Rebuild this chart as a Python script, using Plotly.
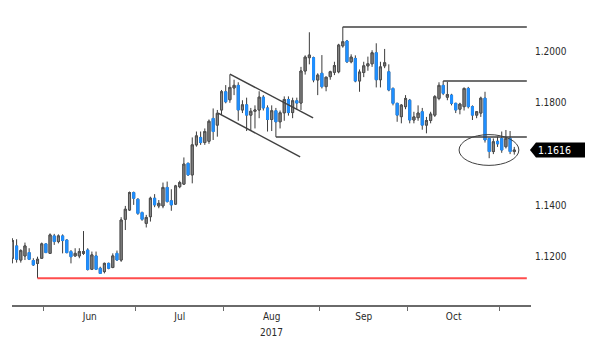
import pandas as pd
import plotly.graph_objects as go

# EUR/USD daily bars, 22 May 2017 - 6 Nov 2017
dates = pd.bdate_range("2017-05-22", periods=121)

opens = [
    1.1194, 1.1242, 1.1187, 1.1203, 1.1216, 1.1185, 1.1174, 1.1194, 1.1250, 1.1213,
    1.1281, 1.1259, 1.1281, 1.1265, 1.1220, 1.1203, 1.1203, 1.1213, 1.1226, 1.1151,
    1.1203, 1.1155, 1.1142, 1.1174, 1.1158, 1.1213, 1.1187, 1.1346, 1.1382, 1.1450,
    1.1424, 1.1372, 1.1330, 1.1356, 1.1428, 1.1398, 1.1398, 1.1470, 1.1418, 1.1405,
    1.1473, 1.1483, 1.1564, 1.1519, 1.1636, 1.1665, 1.1645, 1.1650, 1.1739, 1.1713,
    1.1772, 1.1843, 1.1812, 1.1858, 1.1868, 1.1772, 1.1792, 1.1752, 1.1767, 1.1772,
    1.1822, 1.1780, 1.1735, 1.1769, 1.1726, 1.1761, 1.1813, 1.1762, 1.1808, 1.1799,
    1.1924, 1.1976, 1.1976, 1.1889, 1.1915, 1.1863, 1.1902, 1.1919, 1.1921, 1.2022,
    1.2041, 1.1960, 1.1973, 1.1885, 1.1918, 1.1944, 1.1952, 1.1995, 1.1890, 1.1944,
    1.1921, 1.1856, 1.1798, 1.1746, 1.1785, 1.1810, 1.1733, 1.1742, 1.1765, 1.1713,
    1.1731, 1.1752, 1.1817, 1.1868, 1.1822, 1.1830, 1.1798, 1.1775, 1.1785, 1.1856,
    1.1785, 1.1752, 1.1760, 1.1818, 1.1661, 1.1610, 1.1650, 1.1661, 1.1629, 1.1661,
    1.1610,
]
highs = [
    1.1272, 1.1268, 1.1229, 1.1255, 1.1233, 1.1194, 1.1200, 1.1255, 1.1252, 1.1291,
    1.1289, 1.1287, 1.1287, 1.1268, 1.1226, 1.1233, 1.1233, 1.1300, 1.1233, 1.1220,
    1.1220, 1.1161, 1.1177, 1.1177, 1.1213, 1.1224, 1.1354, 1.1398, 1.1454, 1.1454,
    1.1428, 1.1376, 1.1363, 1.1434, 1.1444, 1.1421, 1.1489, 1.1493, 1.1463, 1.1480,
    1.1496, 1.1587, 1.1567, 1.1665, 1.1688, 1.1688, 1.1700, 1.1735, 1.1778, 1.1772,
    1.1850, 1.1869, 1.1910, 1.1890, 1.1880, 1.1810, 1.1820, 1.1780, 1.1790, 1.1845,
    1.1830, 1.1790, 1.1790, 1.1780, 1.1770, 1.1825, 1.1825, 1.1820, 1.1820, 1.1940,
    1.1985, 1.2075, 1.1980, 1.1915, 1.1986, 1.1900, 1.1925, 1.1960, 1.2030, 1.2096,
    1.2045, 1.1989, 1.1985, 1.1930, 1.1960, 1.1980, 1.2005, 1.2032, 1.1960, 1.2010,
    1.1950, 1.1860, 1.1800, 1.1795, 1.1830, 1.1815, 1.1765, 1.1790, 1.1780, 1.1745,
    1.1765, 1.1830, 1.1880, 1.1885, 1.1882, 1.1835, 1.1800, 1.1800, 1.1860, 1.1862,
    1.1790, 1.1768, 1.1824, 1.1843, 1.1662, 1.1661, 1.1668, 1.1688, 1.1694, 1.1690,
    1.1628,
]
lows = [
    1.1174, 1.1177, 1.1177, 1.1187, 1.1187, 1.1164, 1.1116, 1.1191, 1.1216, 1.1211,
    1.1246, 1.1252, 1.1213, 1.1213, 1.1174, 1.1200, 1.1194, 1.1207, 1.1146, 1.1148,
    1.1148, 1.1133, 1.1135, 1.1151, 1.1155, 1.1185, 1.1180, 1.1304, 1.1379, 1.1402,
    1.1363, 1.1340, 1.1314, 1.1337, 1.1393, 1.1389, 1.1389, 1.1411, 1.1379, 1.1402,
    1.1467, 1.1480, 1.1515, 1.1486, 1.1629, 1.1636, 1.1636, 1.1640, 1.1655, 1.1668,
    1.1752, 1.1798, 1.1800, 1.1830, 1.1730, 1.1760, 1.1690, 1.1690, 1.1700, 1.1740,
    1.1770, 1.1688, 1.1690, 1.1667, 1.1700, 1.1730, 1.1750, 1.1740, 1.1775, 1.1772,
    1.1910, 1.1950, 1.1880, 1.1830, 1.1856, 1.1845, 1.1890, 1.1908, 1.1915, 1.2015,
    1.1955, 1.1954, 1.1880, 1.1843, 1.1900, 1.1925, 1.1940, 1.1860, 1.1860, 1.1935,
    1.1845, 1.1790, 1.1726, 1.1720, 1.1775, 1.1720, 1.1720, 1.1730, 1.1695, 1.1681,
    1.1720, 1.1745, 1.1810, 1.1830, 1.1810, 1.1790, 1.1760, 1.1755, 1.1770, 1.1778,
    1.1733, 1.1740, 1.1745, 1.1645, 1.1584, 1.1600, 1.1628, 1.1605, 1.1622, 1.1600,
    1.1598,
]
closes = [
    1.1263, 1.1190, 1.1224, 1.1242, 1.1190, 1.1168, 1.1190, 1.1250, 1.1216, 1.1285,
    1.1259, 1.1281, 1.1263, 1.1216, 1.1200, 1.1213, 1.1220, 1.1220, 1.1150, 1.1207,
    1.1151, 1.1135, 1.1174, 1.1155, 1.1203, 1.1187, 1.1343, 1.1385, 1.1450, 1.1428,
    1.1369, 1.1346, 1.1353, 1.1428, 1.1402, 1.1408, 1.1470, 1.1415, 1.1402, 1.1476,
    1.1489, 1.1561, 1.1519, 1.1636, 1.1671, 1.1645, 1.1688, 1.1728, 1.1688, 1.1759,
    1.1843, 1.1804, 1.1860, 1.1868, 1.1772, 1.1792, 1.1752, 1.1767, 1.1772, 1.1822,
    1.1780, 1.1735, 1.1769, 1.1726, 1.1761, 1.1813, 1.1762, 1.1808, 1.1799, 1.1924,
    1.1978, 1.1986, 1.1889, 1.1908, 1.1863, 1.1900, 1.1921, 1.1945, 1.2025, 1.2038,
    1.1960, 1.1978, 1.1885, 1.1920, 1.1944, 1.1952, 1.1995, 1.1890, 1.1940, 1.1956,
    1.1850, 1.1798, 1.1752, 1.1791, 1.1817, 1.1733, 1.1745, 1.1760, 1.1713, 1.1731,
    1.1756, 1.1824, 1.1868, 1.1837, 1.1832, 1.1798, 1.1772, 1.1795, 1.1856, 1.1785,
    1.1752, 1.1765, 1.1818, 1.1655, 1.1610, 1.1648, 1.1640, 1.1616, 1.1661, 1.1610,
    1.1616,
]

price_ticks = [1.12, 1.14, 1.18, 1.20]

# bar index of the swing points the horizontal levels are drawn from
LOW_BAR = 6        # late-May low  -> red support
TOP_BAR = 79       # September high
OCT_BAR = 103      # October high
AUG_BAR = 63       # August low

# falling channel drawn over the early-August pullback: (bar, price) pairs
channel_upper = [(52.0, 1.1912), (71.9, 1.1741)]
channel_lower = [(49.2, 1.1760), (68.8, 1.1589)]

# ellipse around the late-October consolidation: (bar, price) extents
ellipse_box = (106.8, 1.1556, 121.1, 1.1676)

last_price = closes[-1]

x = list(range(len(dates)))
BLUE = "#1f8fff"
GREY = "#8a8a8a"
DARK = "#3c3c3c"

fig = go.Figure()

# wicks: full high-low range, drawn dark
fig.add_trace(go.Candlestick(
    x=x, open=opens, high=highs, low=lows, close=closes,
    increasing=dict(line=dict(color=DARK, width=1), fillcolor=DARK),
    decreasing=dict(line=dict(color=DARK, width=1), fillcolor=DARK),
    hoverinfo="skip", showlegend=False,
))

# bodies: open-close range only, coloured by direction
body_hi = [max(o, c) for o, c in zip(opens, closes)]
body_lo = [min(o, c) for o, c in zip(opens, closes)]
fig.add_trace(go.Candlestick(
    x=x, open=opens, high=body_hi, low=body_lo, close=closes,
    increasing=dict(line=dict(color="#505050", width=1), fillcolor=GREY),
    decreasing=dict(line=dict(color=BLUE, width=1), fillcolor=BLUE),
    showlegend=False,
))

X_END = 123.0
shapes = []
# horizontal levels
shapes.append(dict(type="line", xref="x", yref="y", x0=LOW_BAR, x1=X_END,
                   y0=lows[LOW_BAR], y1=lows[LOW_BAR],
                   line=dict(color="#ff4d4d", width=2)))
for bar, level in [(TOP_BAR, highs[TOP_BAR]), (OCT_BAR, highs[OCT_BAR]),
                   (AUG_BAR, lows[AUG_BAR])]:
    shapes.append(dict(type="line", xref="x", yref="y", x0=bar, x1=X_END,
                       y0=level, y1=level, line=dict(color="#404040", width=1.5)))
# channel
for (xa, ya), (xb, yb) in [channel_upper, channel_lower]:
    shapes.append(dict(type="line", xref="x", yref="y", x0=xa, y0=ya, x1=xb, y1=yb,
                       line=dict(color="#404040", width=1.5)))
# ellipse
ex0, ey0, ex1, ey1 = ellipse_box
shapes.append(dict(type="circle", xref="x", yref="y", x0=ex0, y0=ey0, x1=ex1, y1=ey1,
                   line=dict(color="#404040", width=1)))

# last-price tag: pointed black box on the right edge
half = 0.0029
tip, shoulder, end = 0.998, 1.0096, 1.104
shapes.append(dict(type="path", xref="paper", yref="y",
                   path=(f"M {tip},{last_price} L {shoulder},{last_price + half} "
                         f"L {end},{last_price + half} L {end},{last_price - half} "
                         f"L {shoulder},{last_price - half} Z"),
                   fillcolor="black", line=dict(width=0)))
fig.update_layout(shapes=shapes)

fig.add_annotation(
    xref="paper", yref="y", x=shoulder, y=last_price, xanchor="left", yanchor="middle",
    text=f"{last_price:.4f}", showarrow=False, align="left",
    font=dict(color="white", size=10.5, family="DejaVu Sans Condensed, DejaVu Sans"),
)

# month boundaries and month centres from the bar dates
months = pd.Series(dates.month)
bounds = [i - 0.5 for i in range(1, len(dates)) if months[i] != months[i - 1]]
centres = [(a + b) / 2 for a, b in zip(bounds[:-1], bounds[1:])]
labels = [dates[int(a + 0.5)].strftime("%b") for a in bounds[:-1]]

FONT = dict(family="DejaVu Sans Condensed, DejaVu Sans", size=10, color="#2a2a2a")

# year caption under the August label
aug_centre = centres[[dates[int(a + 0.5)].month for a in bounds[:-1]].index(8)]
fig.add_annotation(
    xref="x", yref="paper", x=aug_centre, y=-0.092, yanchor="middle",
    text=str(dates[0].year), showarrow=False, font=FONT,
)

fig.update_layout(
    width=600, height=342,
    margin=dict(l=12, r=69, t=10, b=37),
    plot_bgcolor="white", paper_bgcolor="white",
    font=FONT,
    xaxis=dict(
        range=[-0.1, 124.0], rangeslider=dict(visible=False),
        showgrid=False, zeroline=False,
        showline=True, linecolor="#6a6a6a", linewidth=2,
        tickmode="array", tickvals=centres, ticktext=labels, ticks="",
        minor=dict(tickmode="array", tickvals=bounds, ticks="outside",
                   ticklen=4, tickcolor="#6a6a6a", tickwidth=1, showgrid=False),
        tickfont=FONT, ticklabelstandoff=1,
    ),
    yaxis=dict(
        range=[1.10117, 1.21618], side="right",
        showgrid=False, zeroline=False, showline=False,
        tickmode="array", tickvals=price_ticks,
        ticktext=[f"{v:.4f}" for v in price_ticks], ticks="",
        tickfont=FONT, ticklabelstandoff=3,
    ),
)

fig.write_html("out.html")
